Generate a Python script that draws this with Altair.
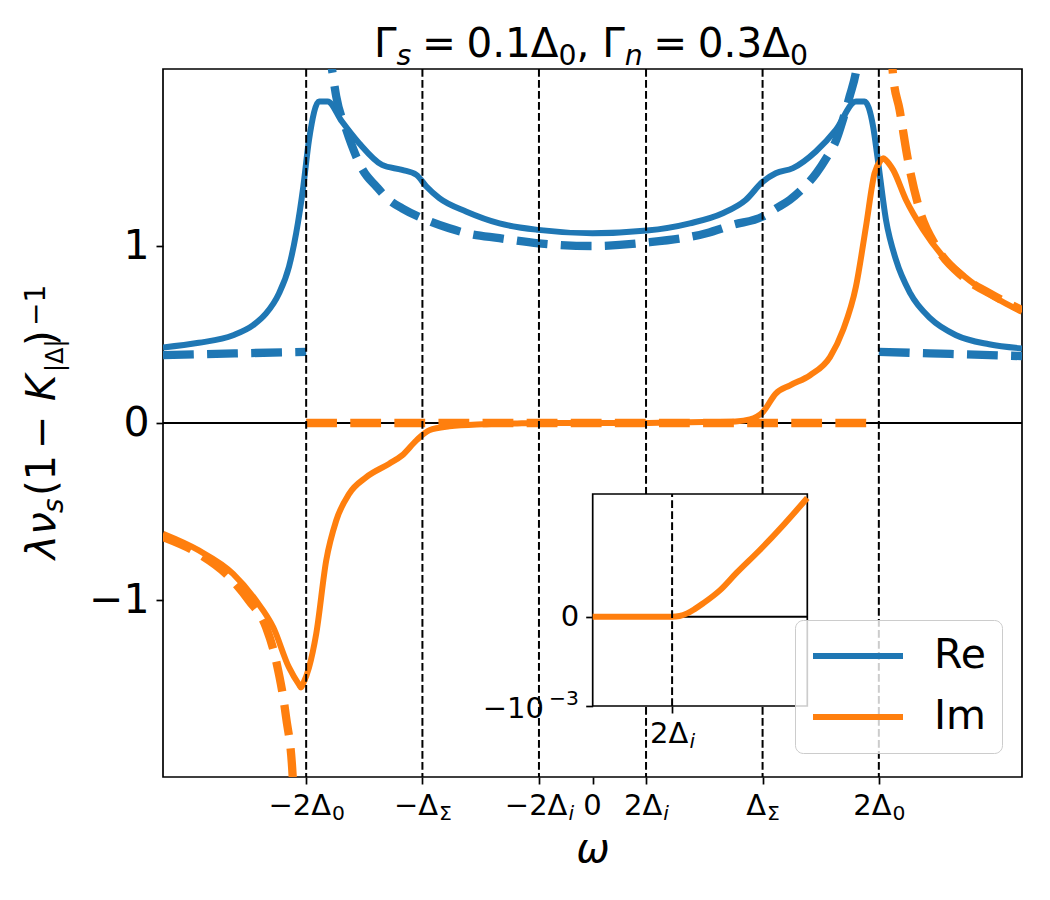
import altair as alt
import pandas as pd

BLUE = "#1f77b4"
ORANGE = "#ff7f0e"

# characteristic energies (units of Delta_0)
D_SIGMA = 1.188   # Delta_Sigma
TWO_DI = 0.374    # 2 Delta_i

# ---- Re (solid) ----
re_x = [-3.0, -2.75, -2.51, -2.37, -2.28, -2.19, -2.12, -2.07, -2.02, -1.98, -1.91, -1.85,
        -1.75, -1.63, -1.47, -1.33, -1.23, -1.16, -1.07, -0.88, -0.65, -0.38, 0.0, 0.38,
        0.68, 0.91, 1.07, 1.19, 1.28, 1.40, 1.56, 1.70, 1.84, 1.90, 1.96, 1.99, 2.05, 2.12,
        2.22, 2.36, 2.54, 2.77, 3.0]
re_y = [0.427, 0.453, 0.496, 0.553, 0.619, 0.732, 0.883, 1.072, 1.336, 1.60, 1.817, 1.817,
        1.703, 1.581, 1.458, 1.43, 1.402, 1.336, 1.27, 1.194, 1.128, 1.091, 1.072, 1.087,
        1.128, 1.185, 1.26, 1.364, 1.411, 1.44, 1.534, 1.656, 1.817, 1.817, 1.675, 1.505, 1.147, 0.921,
        0.732, 0.591, 0.496, 0.445, 0.421]

# ---- Im (solid) ----
im_x = [-3.0, -2.75, -2.51, -2.35, -2.23, -2.12, -2.05, -2.036, -2.02, -1.98, -1.93, -1.86,
        -1.79, -1.70, -1.58, -1.42, -1.33, -1.23, -1.14, -1.0, -0.77, -0.55, -0.374, 0.374,
        0.5, 0.77, 1.0, 1.1, 1.19, 1.28, 1.38, 1.52, 1.66, 1.75, 1.84, 1.91, 1.97, 2.01,
        2.03, 2.05, 2.10, 2.19, 2.31, 2.45, 2.66, 3.0]
im_y = [-0.626, -0.72, -0.852, -1.003, -1.154, -1.381, -1.478, -1.494, -1.47, -1.381, -1.192, -0.777,
        -0.551, -0.40, -0.306, -0.23, -0.183, -0.098, -0.041, -0.019, -0.007, -0.003, 0.0, 0.0,
        0.0013, 0.005, 0.009, 0.02, 0.062, 0.166, 0.213, 0.27, 0.374, 0.525, 0.77, 1.109, 1.411, 1.48,
        1.496, 1.485, 1.43, 1.26, 1.091, 0.939, 0.789, 0.628]

# ---- Re (dashed, three branches) ----
re_dl_x = [-3.0, -2.5, -2.0]
re_dl_y = [0.383, 0.393, 0.402]
re_dm_x = [-1.85, -1.82, -1.79, -1.72, -1.605, -1.51, -1.42, -1.33, -1.19, -1.0, -0.88, -0.65,
           -0.375, 0.0, 0.375, 0.795, 0.98, 1.188, 1.284, 1.377, 1.47, 1.563, 1.633, 1.703,
           1.749, 1.796, 1.843, 1.87]
re_dm_y = [2.15, 2.0, 1.845, 1.657, 1.43, 1.336, 1.26, 1.213, 1.157, 1.10, 1.072, 1.044,
           1.015, 1.0, 1.019, 1.072, 1.119, 1.166, 1.213, 1.26, 1.326, 1.411, 1.496, 1.60,
           1.713, 1.845, 1.996, 2.15]
re_dr_x = [2.0, 2.5, 3.0]
re_dr_y = [0.402, 0.39, 0.378]

# ---- Im (dashed, three branches) ----
im_dl_x = [-3.0, -2.75, -2.56, -2.40, -2.28, -2.21, -2.14, -2.094, -2.085]
im_dl_y = [-0.645, -0.739, -0.852, -1.003, -1.154, -1.343, -1.664, -2.0, -2.15]
im_dz_x = [-2.0, 2.0]
im_dz_y = [0.0, 0.0]
im_dr_x = [2.085, 2.099, 2.145, 2.203, 2.285, 2.402, 2.588, 2.774, 3.0]
im_dr_y = [2.15, 1.968, 1.77, 1.487, 1.203, 0.996, 0.826, 0.732, 0.638]

# ---- inset: Im near 2 Delta_i ----
ins_x = [0.30, 0.374, 0.381, 0.388, 0.395, 0.403, 0.419, 0.434, 0.456, 0.478, 0.50]
ins_y = [0.0, 0.0, 0.008e-3, 0.037e-3, 0.085e-3, 0.15e-3, 0.30e-3, 0.49e-3, 0.75e-3, 1.03e-3, 1.33e-3]
ins_xdom = [0.3, 0.5]
ins_ydom = [-0.001, 0.001374]

# ---- ticks & labels ----
vline_x = [-2.0, -D_SIGMA, -TWO_DI, TWO_DI, D_SIGMA, 2.0]
xtick_vals = [-2.0, -D_SIGMA, -TWO_DI, 0.0, TWO_DI, D_SIGMA, 2.0]
xtick_main = ["−2Δ", "−Δ", "−2Δ", "0", "2Δ", "Δ", "2Δ"]
xtick_sub = ["0", "Σ", "i", "", "i", "Σ", "0"]
xtick_sub_italic = [False, False, True, False, True, False, False]
ytick_vals = [-1, 0, 1]
ytick_text = ["−1", "0", "1"]
ins_ytick_vals = [-0.001, 0.0]
ins_ytick_text = ["", "0"]
ins_ylow_main, ins_ylow_sup = "−10", "−3"
ins_xlabel_main, ins_xlabel_sub = "2Δ", "i"
# title pieces: (text, kind) kind: m = main, s = subscript, si = italic subscript, rel = relation, sp = space
title_parts = [("Γ", "m"), ("s", "si"), ("=", "rel"), ("0.1Δ", "m"), ("0", "s"), (",", "m"), (" ", "sp"),
               ("Γ", "m"), ("n", "si"), ("=", "rel"), ("0.3Δ", "m"), ("0", "s")]
xlabel_text = "ω"
ylabel_parts = ["λν", "s", "(1", "−", "K", "|Δ|", ")", "−1"]
legend_names = ["Re", "Im"]

# DejaVu Sans advance widths (em)
WID = {"Γ": 0.557, "s": 0.521, "n": 0.634, "=": 0.838, "0": 0.636, ".": 0.318, "1": 0.636,
       "3": 0.636, "Δ": 0.684, ",": 0.318, " ": 0.318, "−": 0.838, "2": 0.636, "Σ": 0.632, "i": 0.278}


def tw(t, fs):
    return sum(WID[c] for c in t) * fs


def label_expr(vals, texts):
    expr = "''"
    for v, t in reversed(list(zip(vals, texts))):
        expr = f"abs(datum.value - ({v})) < 1e-7 ? '{t}' : {expr}"
    return expr


def frame(xs, ys, part, seg):
    return pd.DataFrame({"w": xs, "v": ys, "part": part, "seg": seg})


solid = pd.concat([frame(re_x, re_y, "Re", "re"), frame(im_x, im_y, "Im", "im")])
re_dash = pd.concat([frame(re_dl_x, re_dl_y, "Re", "a"), frame(re_dm_x, re_dm_y, "Re", "b"),
                     frame(re_dr_x, re_dr_y, "Re", "c")])
im_dash = pd.concat([frame(im_dl_x, im_dl_y, "Im", "a"), frame(im_dz_x, im_dz_y, "Im", "b"),
                     frame(im_dr_x, im_dr_y, "Im", "c")])

W, H = 859, 708
XD = [-3, 3]
PX = (XD[1] - XD[0]) / W
X_MAIN = alt.Scale(domain=XD, nice=False, zero=False)
Y_MAIN = alt.Scale(domain=[-2, 2], nice=False, zero=False)

XAX = alt.Axis(orient="bottom", values=xtick_vals, labels=False, title=None, grid=False,
               domain=False, tickSize=7, tickWidth=1.7, tickColor="black")
YAX = alt.Axis(orient="left", values=ytick_vals, labelExpr=label_expr(ytick_vals, ytick_text),
               title=None, grid=False, domain=False, tickSize=7, tickWidth=1.7, tickColor="black",
               labelFontSize=41, labelColor="black", labelPadding=7, labelOverlap=False,
               labelFlush=False)

ex = alt.X("w:Q", scale=X_MAIN, axis=XAX)
ey = alt.Y("v:Q", scale=Y_MAIN, axis=YAX)

DUMMY = pd.DataFrame({"k": [0]})


def ptext(txt, x, y, size, italic=False, angle=None, align="left"):
    kw = dict(text=txt, fontSize=size, align=align, baseline="alphabetic", color="black",
              font="DejaVu Sans")
    if italic:
        kw["fontStyle"] = "italic"
    if angle is not None:
        kw["angle"] = angle
    return alt.Chart(DUMMY).mark_text(**kw).encode(x=alt.value(x), y=alt.value(y))


zero_line = alt.Chart(pd.DataFrame({"v": [0.0]})).mark_rule(
    color="black", strokeWidth=2.2).encode(y=ey)

solid_lines = alt.Chart(solid).mark_line(strokeWidth=6, clip=True, strokeJoin="round",
                                         interpolate="monotone").encode(
    x=ex, y=ey,
    color=alt.Color("part:N", scale=alt.Scale(domain=legend_names, range=[BLUE, ORANGE]),
                    legend=alt.Legend(orient="none", legendX=632, legendY=551, title=None,
                                      symbolType="stroke", symbolSize=8100, symbolStrokeWidth=6,
                                      labelFontSize=41, labelColor="black", labelOffset=28,
                                      padding=15, rowPadding=19, clipHeight=42,
                                      fillColor="rgba(255,255,255,0.8)", strokeColor="#cccccc",
                                      cornerRadius=8)),
    detail="seg:N",
)

re_dashed = alt.Chart(re_dash).mark_line(color=BLUE, strokeWidth=8.3, strokeDash=[30.8, 13.3],
                                         clip=True, strokeJoin="round", interpolate="monotone").encode(
    x=ex, y=ey, detail="seg:N")
im_dashed = alt.Chart(im_dash).mark_line(color=ORANGE, strokeWidth=8.3, strokeDash=[30.8, 13.3],
                                         clip=True, strokeJoin="round", interpolate="monotone").encode(
    x=ex, y=ey, detail="seg:N")

vlines = alt.Chart(pd.DataFrame({"w": vline_x})).mark_rule(
    color="black", strokeWidth=2, strokeDash=[7.7, 3.3]).encode(x=ex)

# ---- x tick labels (main text + subscript) ----
FS_X, FS_XS = 29, 20.3
xt = pd.DataFrame({"w": xtick_vals, "main": xtick_main, "sub": xtick_sub, "subit": xtick_sub_italic})
xt["sm"] = [(tw(m, FS_X) - tw(s, FS_XS)) / 2 for m, s in zip(xtick_main, xtick_sub)]

xl_main = alt.Chart(xt).transform_calculate(wx=f"datum.w + datum.sm * {PX}").mark_text(
    align="right", baseline="alphabetic", fontSize=FS_X, color="black").encode(
    x=alt.X("wx:Q", scale=X_MAIN, axis=XAX), y=alt.value(746), text="main:N")
xl_sub = alt.Chart(xt).transform_filter("datum.sub != '' && !datum.subit").transform_calculate(
    wx=f"datum.w + (datum.sm + 1) * {PX}").mark_text(
    align="left", baseline="alphabetic", fontSize=FS_XS, color="black").encode(
    x=alt.X("wx:Q", scale=X_MAIN, axis=XAX), y=alt.value(751), text="sub:N")
xl_subi = alt.Chart(xt).transform_filter("datum.sub != '' && datum.subit").transform_calculate(
    wx=f"datum.w + (datum.sm + 1) * {PX}").mark_text(
    align="left", baseline="alphabetic", fontSize=FS_XS, fontStyle="italic", color="black").encode(
    x=alt.X("wx:Q", scale=X_MAIN, axis=XAX), y=alt.value(751), text="sub:N")

# ---- title (composed) ----
FT, FTS = 40.5, 28.35
GAP = 0.26 * FT


def piece_w(t, k):
    if k in ("s", "si"):
        return tw(t, FTS)
    if k == "rel":
        return tw(t, FT) + 2 * GAP
    return tw(t, FT)


total = sum(piece_w(t, k) for t, k in title_parts)
cx = 428 - total / 2
title_layers = []
for t, k in title_parts:
    wdt = piece_w(t, k)
    if k == "m":
        title_layers.append(ptext(t, cx, -12, FT))
    elif k == "rel":
        title_layers.append(ptext(t, cx + GAP, -12, FT))
    elif k == "s":
        title_layers.append(ptext(t, cx, -4, FTS))
    elif k == "si":
        title_layers.append(ptext(t, cx, -4, FTS, italic=True))
    cx += wdt

xlabel = ptext(xlabel_text, 430, 793, 40, italic=True, align="center")

# y label pieces (rotated)
yl = [
    ptext(ylabel_parts[0], -108, 443, 41, italic=True, angle=270, align="right"),
    ptext(ylabel_parts[1], -100, 444, 28, italic=True, angle=270),
    ptext(ylabel_parts[2], -108, 427, 40, angle=270),
    ptext(ylabel_parts[3], -108, 380, 40, angle=270),
    ptext(ylabel_parts[4], -108, 332, 40, italic=True, angle=270),
    ptext(ylabel_parts[5], -100, 303, 24, angle=270),
    ptext(ylabel_parts[6], -108, 277, 40, angle=270),
    ptext(ylabel_parts[7], -118, 257, 28, angle=270),
]

main = alt.layer(zero_line, solid_lines, re_dashed, im_dashed, vlines, xl_main, xl_sub, xl_subi,
                 *title_layers, xlabel, *yl)

# ---- inset ----
X_IN = alt.Scale(domain=ins_xdom, range=[429.7, 644.3], nice=False, zero=False)
Y_IN = alt.Scale(domain=ins_ydom, range=[637, 425], nice=False, zero=False)
XAX_IN = alt.Axis(orient="bottom", offset=-71, values=[TWO_DI], labels=False, title=None,
                  grid=False, domain=False, tickSize=7, tickWidth=1.7, tickColor="black")
YAX_IN = alt.Axis(orient="left", offset=-429.7, values=ins_ytick_vals,
                  labelExpr=label_expr(ins_ytick_vals, ins_ytick_text), title=None, grid=False,
                  domain=False, tickSize=7, tickWidth=1.7, tickColor="black", labelFontSize=29,
                  labelColor="black", labelPadding=7, labelOverlap=False, labelFlush=False)
ix = alt.X("wi:Q", scale=X_IN, axis=XAX_IN)
iy = alt.Y("vi:Q", scale=Y_IN, axis=YAX_IN)

box = pd.DataFrame({"wi": [ins_xdom[0]], "wi2": [ins_xdom[1]], "vi": [ins_ydom[0]], "vi2": [ins_ydom[1]]})
ins_bg = alt.Chart(box).mark_rect(fill="white", stroke="black", strokeWidth=1.7).encode(
    x=ix, x2="wi2:Q", y=iy, y2="vi2:Q")
ins_zero = alt.Chart(pd.DataFrame({"wi": [ins_xdom[0]], "wi2": [ins_xdom[1]], "vi": [0.0]})).mark_rule(
    color="black", strokeWidth=2).encode(x=ix, x2="wi2:Q", y=iy)
ins_line = alt.Chart(pd.DataFrame({"wi": ins_x, "vi": ins_y})).mark_line(
    color=ORANGE, strokeWidth=6, strokeJoin="round", interpolate="monotone").encode(x=ix, y=iy)
ins_vline = alt.Chart(pd.DataFrame({"wi": [TWO_DI], "vi": [ins_ydom[0]], "vi2": [ins_ydom[1]]})).mark_rule(
    color="black", strokeWidth=2, strokeDash=[7.7, 3.3]).encode(x=ix, y=iy, y2="vi2:Q")

ism = (tw(ins_xlabel_main, FS_X) - tw(ins_xlabel_sub, FS_XS)) / 2
ilab = pd.DataFrame({"wi": [TWO_DI]})
ins_xl_main = alt.Chart(ilab).mark_text(text=ins_xlabel_main, align="right", baseline="alphabetic",
                                        fontSize=FS_X, dx=ism, color="black").encode(
    x=ix, y=alt.value(674.3))
ins_xl_sub = alt.Chart(ilab).mark_text(text=ins_xlabel_sub, align="left", baseline="alphabetic",
                                       fontSize=FS_XS, fontStyle="italic", dx=ism + 1,
                                       color="black").encode(x=ix, y=alt.value(679.3))
ins_yl_main = ptext(ins_ylow_main, 381, 649.3, FS_X, align="right")
ins_yl_sup = ptext(ins_ylow_sup, 416, 636, FS_XS, align="right")

inset = alt.layer(ins_bg, ins_zero, ins_line, ins_vline, ins_xl_main, ins_xl_sub,
                  ins_yl_main, ins_yl_sup)

chart = alt.layer(main, inset).resolve_scale(x="independent", y="independent").properties(
    width=W, height=H,
    autosize=alt.AutoSizeParams(type="none"),
    padding={"left": 163, "top": 69, "right": 28, "bottom": 123},
).configure(font="DejaVu Sans").configure_view(stroke="black", strokeWidth=1.7)

chart.save("out.html", embed_options={"renderer": "svg", "actions": False})
